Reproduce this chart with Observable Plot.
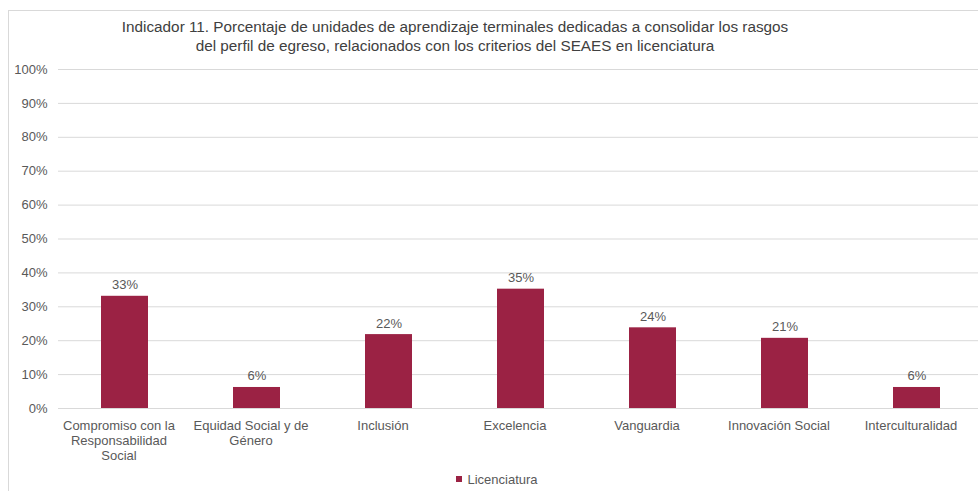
<!DOCTYPE html>
<html>
<head>
<meta charset="utf-8">
<script src="https://cdn.jsdelivr.net/npm/d3@7"></script>
<script src="https://cdn.jsdelivr.net/npm/@observablehq/plot@0.6"></script>
<style>
  html, body { margin: 0; padding: 0; background: #fff; overflow: hidden; }
  #wrap { position: relative; width: 978px; height: 491px; overflow: hidden; font-family: "Liberation Sans", Arial, sans-serif; }
  #frame { position: absolute; left: 8px; top: 10px; width: 990px; height: 500px; border: 1px solid #d9d9d9; box-sizing: border-box; }
  #title { position: absolute; left: 0; top: 18px; width: 910px; text-align: center; font-size: 15.3px; line-height: 18.5px; color: #404040; }
  #chart { position: absolute; left: 0; top: 0; }
  #legend { position: absolute; left: 0; top: 472px; width: 994px; text-align: center; font-size: 13px; color: #595959; }
  #legend .sw { display: inline-block; width: 6px; height: 6px; background: #9b2244; margin-right: 5px; vertical-align: 2px; }
</style>
</head>
<body>
<div id="wrap">
  <div id="frame"></div>
  <div id="title">Indicador 11. Porcentaje de unidades de aprendizaje terminales dedicadas a consolidar los rasgos<br>del perfil de egreso, relacionados con los criterios del SEAES en licenciatura</div>
  <div id="chart"></div>
  <div id="legend"><span class="sw"></span>Licenciatura</div>
</div>
<script>
const categories = [
  "Compromiso con la Responsabilidad Social",
  "Equidad Social y de Género",
  "Inclusión",
  "Excelencia",
  "Vanguardia",
  "Innovación Social",
  "Interculturalidad"
];
const tickLabels = [
  "Compromiso con la\nResponsabilidad\nSocial",
  "Equidad Social y de\nGénero",
  "Inclusión",
  "Excelencia",
  "Vanguardia",
  "Innovación Social",
  "Interculturalidad"
];
const values = [33.1, 6.2, 21.8, 35.2, 23.8, 20.7, 6.2];
const yTicks = [0, 10, 20, 30, 40, 50, 60, 70, 80, 90, 100];

const data = categories.map((c, i) => ({cat: c, value: values[i], label: Math.round(values[i]) + "%"}));
const labelOf = new Map(categories.map((c, i) => [c, tickLabels[i]]));

const chart = Plot.plot({
  width: 978,
  height: 491,
  marginTop: 69,
  marginBottom: 83,
  marginLeft: 58,
  marginRight: 0,
  style: {fontFamily: "'Liberation Sans', Arial, sans-serif", background: "transparent", overflow: "visible"},
  x: {domain: categories, range: [58.5, 982.5], paddingInner: 0.644, paddingOuter: 0.322, align: 0.5},
  y: {domain: [0, 100], ticks: yTicks},
  marks: [
    Plot.gridY(yTicks, {stroke: "#d9d9d9", strokeOpacity: 1, strokeWidth: 1}),
    Plot.axisY(yTicks, {tickSize: 0, tickPadding: 11, tickFormat: d => d + "%", fontSize: 13, fill: "#595959", label: null}),
    Plot.axisX({tickSize: 0, tickPadding: 11, dx: -6, tickFormat: d => labelOf.get(d), fontSize: 13, fill: "#595959", lineHeight: 1.15, label: null}),
    Plot.barY(data, {x: "cat", y: "value", fill: "#9b2244"}),
    Plot.text(data, {x: "cat", y: "value", text: "label", dy: -7, lineAnchor: "bottom", fontSize: 13, fill: "#595959"})
  ]
});
document.getElementById("chart").appendChild(chart);
</script>
</body>
</html>
